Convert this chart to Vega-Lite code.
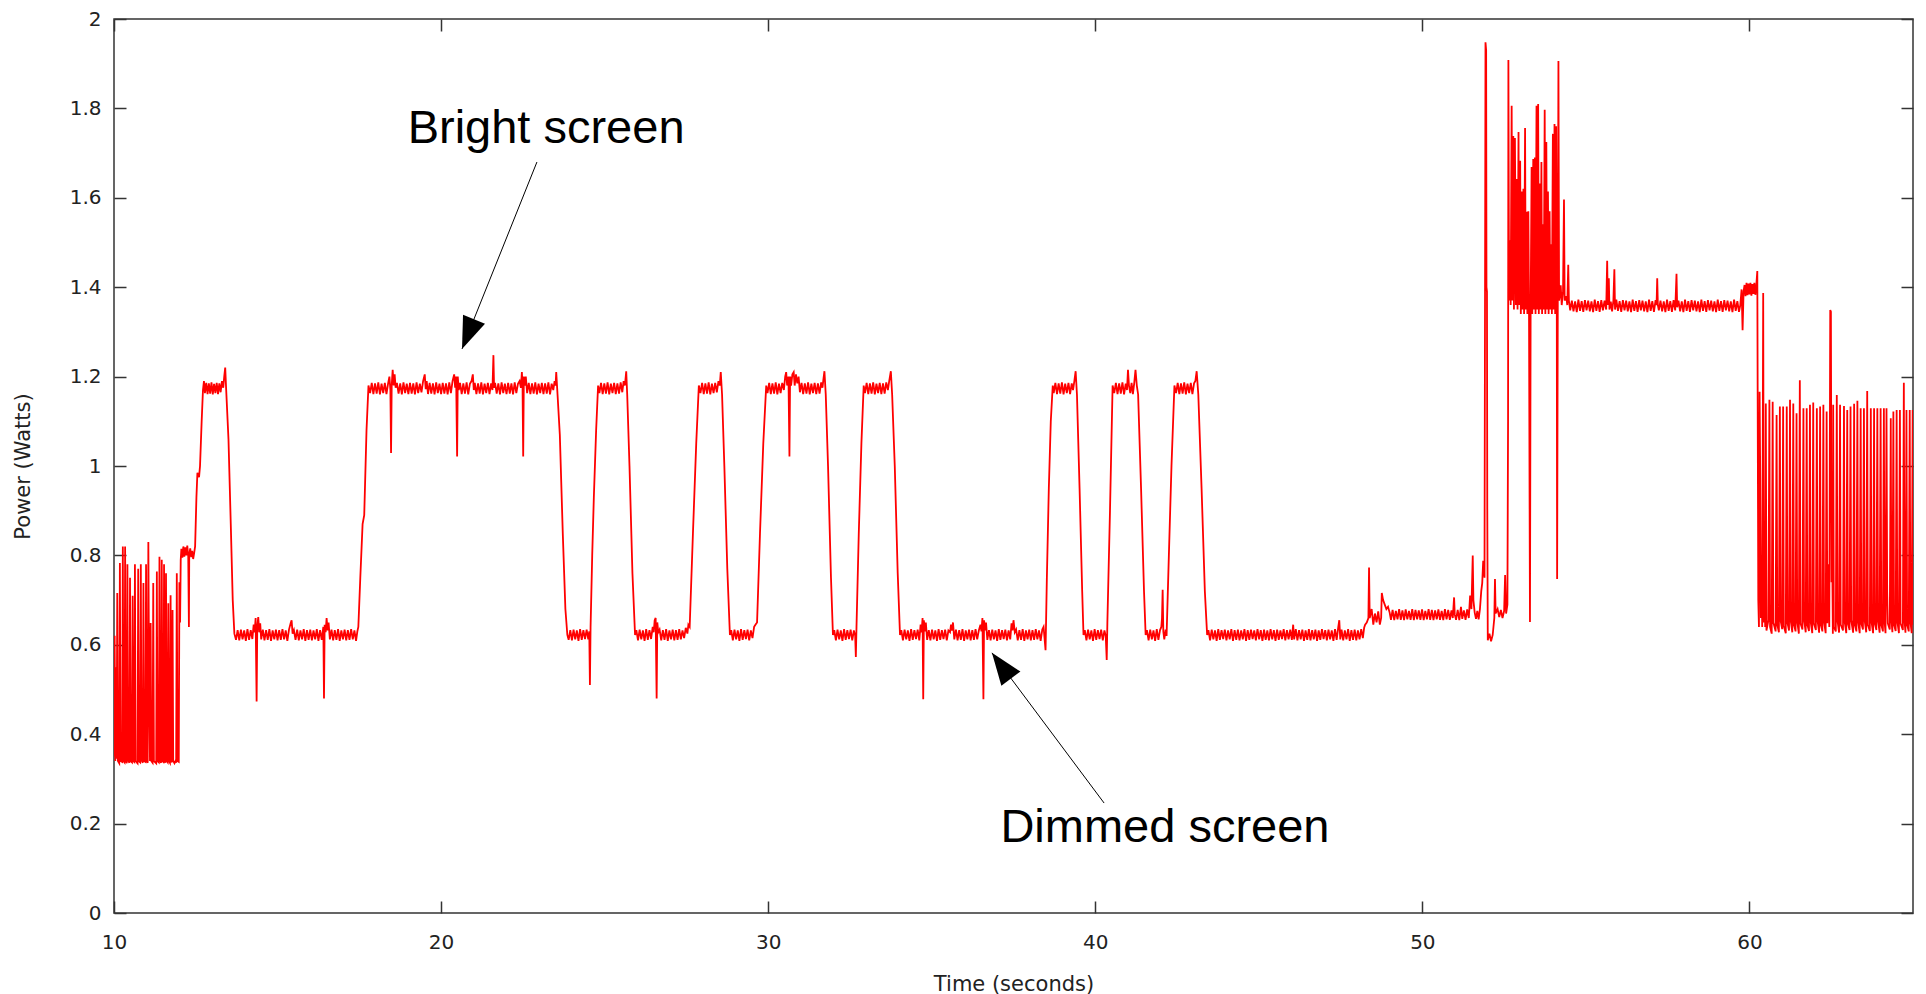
{
"$schema": "https://vega.github.io/schema/vega-lite/v6.json",
"width": 1799,
"height": 894,
"autosize": {"type": "none"},
"padding": {"left": 114, "top": 19, "right": 13, "bottom": 81},
"background": "white",
"config": {
  "view": {"stroke": "#333333", "strokeWidth": 1.5},
  "axis": {"grid": false, "domain": false, "tickColor": "#333333", "tickWidth": 1.5, "tickSize": 12, "offset": -12, "zindex": 1,
           "labelFlush": false, "labelFont": "DejaVu Sans", "labelFontSize": 20, "labelColor": "#222222",
           "titleFont": "DejaVu Sans", "titleFontSize": 21, "titleFontWeight": "normal", "titleColor": "#222222"}
},
"resolve": {"axis": {"x": "independent", "y": "independent"}},
"layer": [
{
  "data": {"values": [
{"t":10.00,"p":0.35},{"t":10.02,"p":0.62},{"t":10.04,"p":0.34},{"t":10.06,"p":0.55},{"t":10.08,"p":0.345},{"t":10.10,"p":0.716},{"t":10.12,"p":0.34},{"t":10.16,"p":0.335},{"t":10.18,"p":0.783},{"t":10.20,"p":0.34},{"t":10.25,"p":0.338},{"t":10.27,"p":0.82},{"t":10.29,"p":0.34},{"t":10.32,"p":0.337},{"t":10.34,"p":0.82},{"t":10.36,"p":0.34},{"t":10.39,"p":0.335},{"t":10.41,"p":0.78},{"t":10.43,"p":0.342},{"t":10.47,"p":0.336},{"t":10.49,"p":0.75},{"t":10.51,"p":0.34},{"t":10.55,"p":0.337},{"t":10.57,"p":0.71},{"t":10.59,"p":0.34},{"t":10.62,"p":0.338},{"t":10.64,"p":0.78},{"t":10.66,"p":0.34},{"t":10.72,"p":0.335},{"t":10.74,"p":0.77},{"t":10.76,"p":0.34},{"t":10.80,"p":0.337},{"t":10.82,"p":0.78},{"t":10.84,"p":0.342},{"t":10.88,"p":0.336},{"t":10.90,"p":0.738},{"t":10.92,"p":0.34},{"t":10.96,"p":0.338},{"t":10.98,"p":0.78},{"t":11.00,"p":0.34},{"t":11.03,"p":0.336},{"t":11.05,"p":0.83},{"t":11.07,"p":0.55},{"t":11.10,"p":0.34},{"t":11.12,"p":0.649},{"t":11.14,"p":0.34},{"t":11.18,"p":0.336},{"t":11.20,"p":0.738},{"t":11.22,"p":0.34},{"t":11.29,"p":0.335},{"t":11.31,"p":0.764},{"t":11.33,"p":0.34},{"t":11.37,"p":0.337},{"t":11.39,"p":0.797},{"t":11.41,"p":0.34},{"t":11.44,"p":0.336},{"t":11.46,"p":0.79},{"t":11.48,"p":0.34},{"t":11.51,"p":0.338},{"t":11.53,"p":0.78},{"t":11.55,"p":0.34},{"t":11.57,"p":0.336},{"t":11.59,"p":0.76},{"t":11.61,"p":0.34},{"t":11.64,"p":0.337},{"t":11.66,"p":0.693},{"t":11.68,"p":0.34},{"t":11.71,"p":0.336},{"t":11.73,"p":0.711},{"t":11.75,"p":0.34},{"t":11.77,"p":0.337},{"t":11.79,"p":0.678},{"t":11.81,"p":0.34},{"t":11.85,"p":0.335},{"t":11.88,"p":0.34},{"t":11.90,"p":0.336},{"t":11.92,"p":0.76},{"t":11.94,"p":0.34},{"t":11.98,"p":0.338},{"t":12.00,"p":0.74},{"t":12.02,"p":0.65},{"t":12.04,"p":0.79},
{"t":12.06,"p":0.815},{"t":12.09,"p":0.795},{"t":12.12,"p":0.82},{"t":12.15,"p":0.797},{"t":12.18,"p":0.818},{"t":12.21,"p":0.80},{"t":12.24,"p":0.822},{"t":12.27,"p":0.798},{"t":12.29,"p":0.64},{"t":12.30,"p":0.80},{"t":12.33,"p":0.816},{"t":12.36,"p":0.796},{"t":12.39,"p":0.81},{"t":12.42,"p":0.792},{"t":12.45,"p":0.805},
{"t":12.48,"p":0.82},{"t":12.52,"p":0.93},{"t":12.55,"p":0.985},{"t":12.60,"p":0.975},{"t":12.63,"p":1.0},{"t":12.68,"p":1.1},{"t":12.72,"p":1.17},
{"t":12.75,"p":1.19},{"t":12.78,"p":1.163},{"t":12.82,"p":1.186},{"t":12.86,"p":1.161},{"t":12.90,"p":1.185},{"t":12.94,"p":1.162},{"t":12.98,"p":1.187},{"t":13.02,"p":1.160},{"t":13.06,"p":1.184},{"t":13.10,"p":1.163},{"t":13.14,"p":1.186},{"t":13.18,"p":1.161},{"t":13.22,"p":1.185},{"t":13.26,"p":1.165},{"t":13.30,"p":1.19},{"t":13.34,"p":1.175},{"t":13.37,"p":1.2},{"t":13.40,"p":1.22},
{"t":13.43,"p":1.17},{"t":13.50,"p":1.06},{"t":13.57,"p":0.87},{"t":13.63,"p":0.7},{"t":13.68,"p":0.625},
{"t":13.73,"p":0.611},{"t":13.78,"p":0.633},{"t":13.83,"p":0.610},{"t":13.88,"p":0.634},{"t":13.93,"p":0.612},{"t":13.98,"p":0.632},{"t":14.03,"p":0.609},{"t":14.08,"p":0.635},{"t":14.13,"p":0.611},{"t":14.18,"p":0.633},{"t":14.23,"p":0.613},{"t":14.27,"p":0.645},{"t":14.30,"p":0.628},{"t":14.33,"p":0.66},{"t":14.36,"p":0.473},{"t":14.38,"p":0.64},{"t":14.41,"p":0.662},{"t":14.44,"p":0.628},{"t":14.47,"p":0.648},{"t":14.50,"p":0.612},{"t":14.55,"p":0.634},{"t":14.60,"p":0.610},{"t":14.65,"p":0.633},{"t":14.70,"p":0.611},{"t":14.75,"p":0.635},{"t":14.80,"p":0.609},{"t":14.85,"p":0.632},{"t":14.90,"p":0.612},{"t":14.95,"p":0.634},{"t":15.00,"p":0.610},{"t":15.05,"p":0.633},{"t":15.10,"p":0.611},{"t":15.15,"p":0.635},{"t":15.20,"p":0.612},{"t":15.25,"p":0.632},{"t":15.30,"p":0.609},{"t":15.35,"p":0.634},{"t":15.40,"p":0.648},{"t":15.43,"p":0.655},{"t":15.46,"p":0.625},{"t":15.50,"p":0.633},{"t":15.55,"p":0.611},{"t":15.60,"p":0.634},{"t":15.65,"p":0.610},{"t":15.70,"p":0.632},{"t":15.75,"p":0.612},{"t":15.80,"p":0.635},{"t":15.85,"p":0.609},{"t":15.90,"p":0.633},{"t":15.95,"p":0.611},{"t":16.00,"p":0.634},{"t":16.05,"p":0.610},{"t":16.10,"p":0.632},{"t":16.15,"p":0.612},{"t":16.20,"p":0.635},{"t":16.25,"p":0.609},{"t":16.30,"p":0.633},{"t":16.35,"p":0.611},{"t":16.40,"p":0.64},{"t":16.42,"p":0.48},{"t":16.44,"p":0.645},{"t":16.47,"p":0.628},{"t":16.50,"p":0.66},{"t":16.53,"p":0.632},{"t":16.56,"p":0.65},{"t":16.60,"p":0.612},{"t":16.65,"p":0.634},{"t":16.70,"p":0.610},{"t":16.75,"p":0.633},{"t":16.80,"p":0.611},{"t":16.85,"p":0.635},{"t":16.90,"p":0.609},{"t":16.95,"p":0.632},{"t":17.00,"p":0.612},{"t":17.05,"p":0.634},{"t":17.10,"p":0.610},{"t":17.15,"p":0.633},{"t":17.20,"p":0.611},{"t":17.25,"p":0.635},{"t":17.30,"p":0.612},{"t":17.35,"p":0.632},{"t":17.40,"p":0.609},{"t":17.44,"p":0.63},
{"t":17.47,"p":0.64},{"t":17.53,"p":0.75},{"t":17.60,"p":0.87},{"t":17.65,"p":0.89},{"t":17.72,"p":1.08},{"t":17.78,"p":1.18},
{"t":17.83,"p":1.163},{"t":17.88,"p":1.186},{"t":17.93,"p":1.161},{"t":17.98,"p":1.185},{"t":18.03,"p":1.162},{"t":18.08,"p":1.187},{"t":18.13,"p":1.160},{"t":18.18,"p":1.184},{"t":18.23,"p":1.163},{"t":18.28,"p":1.186},{"t":18.33,"p":1.161},{"t":18.38,"p":1.185},{"t":18.42,"p":1.2},{"t":18.45,"p":1.17},{"t":18.47,"p":1.029},{"t":18.49,"p":1.18},{"t":18.52,"p":1.215},{"t":18.55,"p":1.18},{"t":18.58,"p":1.205},{"t":18.61,"p":1.175},{"t":18.65,"p":1.186},{"t":18.70,"p":1.162},{"t":18.75,"p":1.185},{"t":18.80,"p":1.160},{"t":18.85,"p":1.187},{"t":18.90,"p":1.163},{"t":18.95,"p":1.184},{"t":19.00,"p":1.161},{"t":19.05,"p":1.186},{"t":19.10,"p":1.162},{"t":19.15,"p":1.185},{"t":19.20,"p":1.160},{"t":19.25,"p":1.187},{"t":19.30,"p":1.163},{"t":19.35,"p":1.184},{"t":19.40,"p":1.165},{"t":19.45,"p":1.19},{"t":19.50,"p":1.205},{"t":19.53,"p":1.172},{"t":19.56,"p":1.19},{"t":19.60,"p":1.161},{"t":19.65,"p":1.186},{"t":19.70,"p":1.162},{"t":19.75,"p":1.185},{"t":19.80,"p":1.160},{"t":19.85,"p":1.187},{"t":19.90,"p":1.163},{"t":19.95,"p":1.184},{"t":20.00,"p":1.161},{"t":20.05,"p":1.186},{"t":20.10,"p":1.162},{"t":20.15,"p":1.185},{"t":20.20,"p":1.160},{"t":20.25,"p":1.187},{"t":20.30,"p":1.163},{"t":20.35,"p":1.19},{"t":20.40,"p":1.205},{"t":20.43,"p":1.175},{"t":20.46,"p":1.2},{"t":20.49,"p":1.021},{"t":20.51,"p":1.2},{"t":20.54,"p":1.17},{"t":20.58,"p":1.186},{"t":20.63,"p":1.161},{"t":20.68,"p":1.185},{"t":20.73,"p":1.162},{"t":20.78,"p":1.187},{"t":20.83,"p":1.160},{"t":20.88,"p":1.184},{"t":20.93,"p":1.19},{"t":20.97,"p":1.205},{"t":21.00,"p":1.17},{"t":21.03,"p":1.186},{"t":21.08,"p":1.161},{"t":21.13,"p":1.185},{"t":21.18,"p":1.162},{"t":21.23,"p":1.187},{"t":21.28,"p":1.160},{"t":21.33,"p":1.184},{"t":21.38,"p":1.163},{"t":21.43,"p":1.186},{"t":21.48,"p":1.161},{"t":21.53,"p":1.185},{"t":21.57,"p":1.17},{"t":21.60,"p":1.248},{"t":21.62,"p":1.175},{"t":21.65,"p":1.186},{"t":21.70,"p":1.162},{"t":21.75,"p":1.185},{"t":21.80,"p":1.160},{"t":21.85,"p":1.187},{"t":21.90,"p":1.163},{"t":21.95,"p":1.184},{"t":22.00,"p":1.161},{"t":22.05,"p":1.186},{"t":22.10,"p":1.162},{"t":22.15,"p":1.185},{"t":22.20,"p":1.160},{"t":22.25,"p":1.187},{"t":22.30,"p":1.163},{"t":22.35,"p":1.184},{"t":22.40,"p":1.19},{"t":22.44,"p":1.175},{"t":22.47,"p":1.21},{"t":22.49,"p":1.18},{"t":22.51,"p":1.021},{"t":22.53,"p":1.2},{"t":22.56,"p":1.18},{"t":22.59,"p":1.2},{"t":22.63,"p":1.163},{"t":22.68,"p":1.186},{"t":22.73,"p":1.161},{"t":22.78,"p":1.185},{"t":22.83,"p":1.162},{"t":22.88,"p":1.187},{"t":22.93,"p":1.160},{"t":22.98,"p":1.184},{"t":23.03,"p":1.163},{"t":23.08,"p":1.186},{"t":23.13,"p":1.161},{"t":23.18,"p":1.185},{"t":23.23,"p":1.162},{"t":23.28,"p":1.187},{"t":23.33,"p":1.160},{"t":23.38,"p":1.184},{"t":23.43,"p":1.17},{"t":23.47,"p":1.19},{"t":23.50,"p":1.18},{"t":23.52,"p":1.21},
{"t":23.56,"p":1.16},{"t":23.63,"p":1.07},{"t":23.72,"p":0.85},{"t":23.80,"p":0.68},{"t":23.86,"p":0.622},
{"t":23.90,"p":0.611},{"t":23.95,"p":0.633},{"t":24.00,"p":0.610},{"t":24.05,"p":0.634},{"t":24.10,"p":0.612},{"t":24.15,"p":0.632},{"t":24.20,"p":0.609},{"t":24.25,"p":0.635},{"t":24.30,"p":0.611},{"t":24.35,"p":0.633},{"t":24.40,"p":0.613},{"t":24.45,"p":0.634},{"t":24.50,"p":0.612},{"t":24.53,"p":0.63},{"t":24.55,"p":0.51},{"t":24.57,"p":0.64},
{"t":24.62,"p":0.8},{"t":24.67,"p":0.93},{"t":24.74,"p":1.08},{"t":24.80,"p":1.18},
{"t":24.84,"p":1.163},{"t":24.89,"p":1.186},{"t":24.94,"p":1.161},{"t":24.99,"p":1.185},{"t":25.04,"p":1.162},{"t":25.09,"p":1.187},{"t":25.14,"p":1.160},{"t":25.19,"p":1.184},{"t":25.24,"p":1.163},{"t":25.29,"p":1.186},{"t":25.34,"p":1.161},{"t":25.39,"p":1.185},{"t":25.44,"p":1.162},{"t":25.49,"p":1.187},{"t":25.54,"p":1.165},{"t":25.58,"p":1.19},{"t":25.62,"p":1.18},{"t":25.66,"p":1.212},
{"t":25.69,"p":1.16},{"t":25.76,"p":1.0},{"t":25.85,"p":0.76},{"t":25.93,"p":0.622},
{"t":25.97,"p":0.633},{"t":26.02,"p":0.610},{"t":26.07,"p":0.634},{"t":26.12,"p":0.612},{"t":26.17,"p":0.632},{"t":26.22,"p":0.609},{"t":26.27,"p":0.635},{"t":26.32,"p":0.611},{"t":26.37,"p":0.633},{"t":26.42,"p":0.613},{"t":26.47,"p":0.64},{"t":26.50,"p":0.628},{"t":26.53,"p":0.655},{"t":26.56,"p":0.66},{"t":26.59,"p":0.48},{"t":26.61,"p":0.65},{"t":26.64,"p":0.628},{"t":26.68,"p":0.634},{"t":26.73,"p":0.610},{"t":26.78,"p":0.633},{"t":26.83,"p":0.611},{"t":26.88,"p":0.635},{"t":26.93,"p":0.609},{"t":26.98,"p":0.632},{"t":27.03,"p":0.612},{"t":27.08,"p":0.634},{"t":27.13,"p":0.610},{"t":27.18,"p":0.633},{"t":27.23,"p":0.611},{"t":27.28,"p":0.635},{"t":27.33,"p":0.612},{"t":27.38,"p":0.632},{"t":27.43,"p":0.615},{"t":27.48,"p":0.638},{"t":27.53,"p":0.625},{"t":27.56,"p":0.645},
{"t":27.60,"p":0.64},{"t":27.70,"p":0.85},{"t":27.80,"p":1.05},{"t":27.88,"p":1.18},
{"t":27.93,"p":1.163},{"t":27.98,"p":1.186},{"t":28.03,"p":1.161},{"t":28.08,"p":1.185},{"t":28.13,"p":1.162},{"t":28.18,"p":1.187},{"t":28.23,"p":1.160},{"t":28.28,"p":1.184},{"t":28.33,"p":1.163},{"t":28.38,"p":1.186},{"t":28.43,"p":1.165},{"t":28.48,"p":1.19},{"t":28.52,"p":1.18},{"t":28.55,"p":1.21},
{"t":28.59,"p":1.16},{"t":28.66,"p":1.0},{"t":28.75,"p":0.77},{"t":28.83,"p":0.622},
{"t":28.87,"p":0.633},{"t":28.92,"p":0.610},{"t":28.97,"p":0.634},{"t":29.02,"p":0.612},{"t":29.07,"p":0.632},{"t":29.12,"p":0.609},{"t":29.17,"p":0.635},{"t":29.22,"p":0.611},{"t":29.27,"p":0.633},{"t":29.32,"p":0.613},{"t":29.37,"p":0.634},{"t":29.42,"p":0.610},{"t":29.47,"p":0.632},{"t":29.52,"p":0.615},{"t":29.57,"p":0.64},{"t":29.61,"p":0.645},
{"t":29.66,"p":0.65},{"t":29.75,"p":0.85},{"t":29.85,"p":1.05},{"t":29.94,"p":1.18},
{"t":29.98,"p":1.163},{"t":30.03,"p":1.186},{"t":30.08,"p":1.161},{"t":30.13,"p":1.185},{"t":30.18,"p":1.162},{"t":30.23,"p":1.187},{"t":30.28,"p":1.160},{"t":30.33,"p":1.184},{"t":30.38,"p":1.163},{"t":30.43,"p":1.186},{"t":30.48,"p":1.17},{"t":30.52,"p":1.2},{"t":30.55,"p":1.21},{"t":30.58,"p":1.18},{"t":30.62,"p":1.2},{"t":30.65,"p":1.021},{"t":30.67,"p":1.2},{"t":30.70,"p":1.18},{"t":30.74,"p":1.205},{"t":30.78,"p":1.21},{"t":30.81,"p":1.18},{"t":30.85,"p":1.205},{"t":30.89,"p":1.185},{"t":30.93,"p":1.2},{"t":30.97,"p":1.165},{"t":31.02,"p":1.186},{"t":31.07,"p":1.161},{"t":31.12,"p":1.185},{"t":31.17,"p":1.162},{"t":31.22,"p":1.187},{"t":31.27,"p":1.160},{"t":31.32,"p":1.184},{"t":31.37,"p":1.163},{"t":31.42,"p":1.186},{"t":31.47,"p":1.161},{"t":31.52,"p":1.185},{"t":31.57,"p":1.162},{"t":31.62,"p":1.187},{"t":31.66,"p":1.175},{"t":31.69,"p":1.195},{"t":31.72,"p":1.212},
{"t":31.76,"p":1.16},{"t":31.83,"p":1.0},{"t":31.92,"p":0.75},{"t":31.98,"p":0.622},
{"t":32.02,"p":0.633},{"t":32.07,"p":0.610},{"t":32.12,"p":0.634},{"t":32.17,"p":0.612},{"t":32.22,"p":0.632},{"t":32.27,"p":0.609},{"t":32.32,"p":0.635},{"t":32.37,"p":0.611},{"t":32.42,"p":0.633},{"t":32.47,"p":0.613},{"t":32.52,"p":0.634},{"t":32.57,"p":0.610},{"t":32.62,"p":0.632},{"t":32.66,"p":0.62},{"t":32.68,"p":0.573},{"t":32.70,"p":0.64},
{"t":32.77,"p":0.85},{"t":32.85,"p":1.05},{"t":32.92,"p":1.18},
{"t":32.96,"p":1.163},{"t":33.01,"p":1.186},{"t":33.06,"p":1.161},{"t":33.11,"p":1.185},{"t":33.16,"p":1.162},{"t":33.21,"p":1.187},{"t":33.26,"p":1.160},{"t":33.31,"p":1.184},{"t":33.36,"p":1.163},{"t":33.41,"p":1.186},{"t":33.46,"p":1.161},{"t":33.51,"p":1.185},{"t":33.56,"p":1.162},{"t":33.61,"p":1.187},{"t":33.66,"p":1.17},{"t":33.70,"p":1.19},{"t":33.75,"p":1.212},
{"t":33.79,"p":1.16},{"t":33.87,"p":1.0},{"t":33.96,"p":0.76},{"t":34.03,"p":0.622},
{"t":34.07,"p":0.633},{"t":34.12,"p":0.610},{"t":34.17,"p":0.634},{"t":34.22,"p":0.612},{"t":34.27,"p":0.632},{"t":34.32,"p":0.609},{"t":34.37,"p":0.635},{"t":34.42,"p":0.611},{"t":34.47,"p":0.633},{"t":34.52,"p":0.613},{"t":34.57,"p":0.634},{"t":34.62,"p":0.610},{"t":34.66,"p":0.645},{"t":34.69,"p":0.628},{"t":34.72,"p":0.66},{"t":34.74,"p":0.478},{"t":34.76,"p":0.655},{"t":34.79,"p":0.63},{"t":34.82,"p":0.65},{"t":34.86,"p":0.611},{"t":34.91,"p":0.633},{"t":34.96,"p":0.610},{"t":35.01,"p":0.634},{"t":35.06,"p":0.612},{"t":35.11,"p":0.632},{"t":35.16,"p":0.609},{"t":35.21,"p":0.635},{"t":35.26,"p":0.611},{"t":35.31,"p":0.633},{"t":35.36,"p":0.613},{"t":35.41,"p":0.634},{"t":35.46,"p":0.610},{"t":35.51,"p":0.632},{"t":35.56,"p":0.628},{"t":35.59,"p":0.645},{"t":35.62,"p":0.632},{"t":35.65,"p":0.65},{"t":35.69,"p":0.612},{"t":35.74,"p":0.634},{"t":35.79,"p":0.610},{"t":35.84,"p":0.633},{"t":35.89,"p":0.611},{"t":35.94,"p":0.635},{"t":35.99,"p":0.609},{"t":36.04,"p":0.632},{"t":36.09,"p":0.612},{"t":36.14,"p":0.634},{"t":36.19,"p":0.610},{"t":36.24,"p":0.633},{"t":36.29,"p":0.611},{"t":36.34,"p":0.635},{"t":36.39,"p":0.612},{"t":36.44,"p":0.632},{"t":36.49,"p":0.645},{"t":36.52,"p":0.63},{"t":36.55,"p":0.66},{"t":36.58,"p":0.478},{"t":36.60,"p":0.655},{"t":36.63,"p":0.632},{"t":36.66,"p":0.65},{"t":36.70,"p":0.611},{"t":36.75,"p":0.633},{"t":36.80,"p":0.610},{"t":36.85,"p":0.634},{"t":36.90,"p":0.612},{"t":36.95,"p":0.632},{"t":37.00,"p":0.609},{"t":37.05,"p":0.635},{"t":37.10,"p":0.611},{"t":37.15,"p":0.633},{"t":37.20,"p":0.613},{"t":37.25,"p":0.634},{"t":37.30,"p":0.610},{"t":37.35,"p":0.632},{"t":37.40,"p":0.612},{"t":37.44,"p":0.648},{"t":37.47,"p":0.632},{"t":37.50,"p":0.655},{"t":37.54,"p":0.628},{"t":37.58,"p":0.634},{"t":37.63,"p":0.610},{"t":37.68,"p":0.633},{"t":37.73,"p":0.611},{"t":37.78,"p":0.635},{"t":37.83,"p":0.609},{"t":37.88,"p":0.632},{"t":37.93,"p":0.612},{"t":37.98,"p":0.634},{"t":38.03,"p":0.610},{"t":38.08,"p":0.633},{"t":38.13,"p":0.611},{"t":38.18,"p":0.635},{"t":38.23,"p":0.612},{"t":38.28,"p":0.632},{"t":38.33,"p":0.609},{"t":38.38,"p":0.634},{"t":38.42,"p":0.64},{"t":38.48,"p":0.588},
{"t":38.52,"p":0.75},{"t":38.58,"p":0.95},{"t":38.64,"p":1.1},{"t":38.70,"p":1.18},
{"t":38.73,"p":1.163},{"t":38.78,"p":1.186},{"t":38.83,"p":1.161},{"t":38.88,"p":1.185},{"t":38.93,"p":1.162},{"t":38.98,"p":1.187},{"t":39.03,"p":1.160},{"t":39.08,"p":1.184},{"t":39.13,"p":1.163},{"t":39.18,"p":1.186},{"t":39.23,"p":1.161},{"t":39.28,"p":1.185},{"t":39.32,"p":1.17},{"t":39.36,"p":1.19},{"t":39.40,"p":1.212},
{"t":39.44,"p":1.16},{"t":39.52,"p":0.95},{"t":39.60,"p":0.72},{"t":39.64,"p":0.622},
{"t":39.68,"p":0.633},{"t":39.73,"p":0.610},{"t":39.78,"p":0.634},{"t":39.83,"p":0.612},{"t":39.88,"p":0.632},{"t":39.93,"p":0.609},{"t":39.98,"p":0.635},{"t":40.03,"p":0.611},{"t":40.08,"p":0.633},{"t":40.13,"p":0.613},{"t":40.18,"p":0.634},{"t":40.23,"p":0.610},{"t":40.28,"p":0.632},{"t":40.32,"p":0.62},{"t":40.35,"p":0.566},{"t":40.37,"p":0.65},
{"t":40.45,"p":0.9},{"t":40.53,"p":1.18},
{"t":40.58,"p":1.163},{"t":40.63,"p":1.186},{"t":40.68,"p":1.161},{"t":40.73,"p":1.185},{"t":40.78,"p":1.162},{"t":40.83,"p":1.187},{"t":40.88,"p":1.160},{"t":40.93,"p":1.184},{"t":40.97,"p":1.17},{"t":41.00,"p":1.215},{"t":41.03,"p":1.18},{"t":41.07,"p":1.163},{"t":41.11,"p":1.186},{"t":41.15,"p":1.161},{"t":41.19,"p":1.185},{"t":41.23,"p":1.215},{"t":41.27,"p":1.18},
{"t":41.31,"p":1.16},{"t":41.40,"p":0.95},{"t":41.49,"p":0.72},{"t":41.54,"p":0.622},
{"t":41.58,"p":0.633},{"t":41.63,"p":0.610},{"t":41.68,"p":0.634},{"t":41.73,"p":0.612},{"t":41.78,"p":0.632},{"t":41.83,"p":0.609},{"t":41.88,"p":0.635},{"t":41.93,"p":0.611},{"t":41.98,"p":0.633},{"t":42.02,"p":0.64},{"t":42.04,"p":0.66},{"t":42.06,"p":0.723},{"t":42.08,"p":0.63},{"t":42.11,"p":0.612},{"t":42.15,"p":0.634},{"t":42.18,"p":0.62},
{"t":42.25,"p":0.8},{"t":42.33,"p":1.0},{"t":42.42,"p":1.18},
{"t":42.47,"p":1.163},{"t":42.52,"p":1.186},{"t":42.57,"p":1.161},{"t":42.62,"p":1.185},{"t":42.67,"p":1.162},{"t":42.72,"p":1.187},{"t":42.77,"p":1.160},{"t":42.82,"p":1.184},{"t":42.87,"p":1.163},{"t":42.92,"p":1.186},{"t":42.97,"p":1.161},{"t":43.02,"p":1.185},{"t":43.06,"p":1.19},{"t":43.10,"p":1.212},
{"t":43.15,"p":1.16},{"t":43.25,"p":0.95},{"t":43.35,"p":0.72},{"t":43.42,"p":0.622},
{"t":43.46,"p":0.633},{"t":43.51,"p":0.610},{"t":43.56,"p":0.634},{"t":43.61,"p":0.612},{"t":43.66,"p":0.632},{"t":43.71,"p":0.609},{"t":43.76,"p":0.635},{"t":43.81,"p":0.611},{"t":43.86,"p":0.633},{"t":43.91,"p":0.613},{"t":43.96,"p":0.634},{"t":44.01,"p":0.610},{"t":44.06,"p":0.632},{"t":44.11,"p":0.612},{"t":44.16,"p":0.635},{"t":44.21,"p":0.609},{"t":44.26,"p":0.633},{"t":44.31,"p":0.611},{"t":44.36,"p":0.634},{"t":44.41,"p":0.610},{"t":44.46,"p":0.632},{"t":44.51,"p":0.612},{"t":44.56,"p":0.635},{"t":44.61,"p":0.609},{"t":44.66,"p":0.633},{"t":44.71,"p":0.611},{"t":44.76,"p":0.634},{"t":44.81,"p":0.613},{"t":44.86,"p":0.632},{"t":44.91,"p":0.610},{"t":44.96,"p":0.635},{"t":45.01,"p":0.612},{"t":45.06,"p":0.633},{"t":45.11,"p":0.609},{"t":45.16,"p":0.634},{"t":45.21,"p":0.611},{"t":45.26,"p":0.632},{"t":45.31,"p":0.610},{"t":45.36,"p":0.635},{"t":45.41,"p":0.612},{"t":45.46,"p":0.633},{"t":45.51,"p":0.609},{"t":45.56,"p":0.634},{"t":45.61,"p":0.611},{"t":45.66,"p":0.632},{"t":45.71,"p":0.613},{"t":45.76,"p":0.635},{"t":45.81,"p":0.610},{"t":45.86,"p":0.633},{"t":45.91,"p":0.612},{"t":45.96,"p":0.634},{"t":46.01,"p":0.611},{"t":46.05,"p":0.645},{"t":46.08,"p":0.612},{"t":46.13,"p":0.635},{"t":46.18,"p":0.610},{"t":46.23,"p":0.633},{"t":46.28,"p":0.612},{"t":46.33,"p":0.634},{"t":46.38,"p":0.609},{"t":46.43,"p":0.632},{"t":46.48,"p":0.611},{"t":46.53,"p":0.635},{"t":46.58,"p":0.610},{"t":46.63,"p":0.633},{"t":46.68,"p":0.612},{"t":46.73,"p":0.634},{"t":46.78,"p":0.609},{"t":46.83,"p":0.632},{"t":46.88,"p":0.611},{"t":46.93,"p":0.635},{"t":46.98,"p":0.613},{"t":47.03,"p":0.633},{"t":47.08,"p":0.610},{"t":47.13,"p":0.634},{"t":47.18,"p":0.612},{"t":47.23,"p":0.632},{"t":47.28,"p":0.609},{"t":47.33,"p":0.635},{"t":47.38,"p":0.611},{"t":47.43,"p":0.64},{"t":47.46,"p":0.655},{"t":47.49,"p":0.612},{"t":47.53,"p":0.634},{"t":47.58,"p":0.610},{"t":47.63,"p":0.632},{"t":47.68,"p":0.612},{"t":47.73,"p":0.635},{"t":47.78,"p":0.609},{"t":47.83,"p":0.633},{"t":47.88,"p":0.611},{"t":47.93,"p":0.634},{"t":47.98,"p":0.610},{"t":48.03,"p":0.632},{"t":48.08,"p":0.612},{"t":48.13,"p":0.635},{"t":48.18,"p":0.615},{"t":48.22,"p":0.638},{"t":48.25,"p":0.645},
{"t":48.30,"p":0.65},{"t":48.35,"p":0.66},{"t":48.37,"p":0.773},{"t":48.39,"p":0.66},{"t":48.45,"p":0.68},{"t":48.50,"p":0.645},{"t":48.55,"p":0.67},{"t":48.60,"p":0.65},{"t":48.65,"p":0.675},{"t":48.70,"p":0.645},{"t":48.74,"p":0.66},{"t":48.76,"p":0.716},{"t":48.80,"p":0.7},{"t":48.85,"p":0.69},{"t":48.90,"p":0.68},{"t":48.95,"p":0.685},{"t":49.00,"p":0.672},
{"t":49.04,"p":0.656},{"t":49.09,"p":0.678},{"t":49.14,"p":0.655},{"t":49.19,"p":0.676},{"t":49.24,"p":0.657},{"t":49.29,"p":0.68},{"t":49.34,"p":0.656},{"t":49.39,"p":0.677},{"t":49.44,"p":0.655},{"t":49.49,"p":0.679},{"t":49.54,"p":0.657},{"t":49.59,"p":0.676},{"t":49.64,"p":0.656},{"t":49.69,"p":0.68},{"t":49.74,"p":0.655},{"t":49.79,"p":0.678},{"t":49.84,"p":0.657},{"t":49.89,"p":0.677},{"t":49.94,"p":0.656},{"t":49.99,"p":0.679},{"t":50.04,"p":0.655},{"t":50.09,"p":0.676},{"t":50.14,"p":0.657},{"t":50.19,"p":0.68},{"t":50.24,"p":0.656},{"t":50.29,"p":0.678},{"t":50.34,"p":0.655},{"t":50.39,"p":0.677},{"t":50.44,"p":0.657},{"t":50.49,"p":0.679},{"t":50.54,"p":0.656},{"t":50.59,"p":0.676},{"t":50.64,"p":0.655},{"t":50.69,"p":0.68},{"t":50.74,"p":0.657},{"t":50.79,"p":0.678},{"t":50.84,"p":0.656},{"t":50.89,"p":0.677},{"t":50.93,"p":0.66},{"t":50.97,"p":0.706},{"t":50.99,"p":0.668},{"t":51.03,"p":0.656},{"t":51.08,"p":0.678},{"t":51.13,"p":0.655},{"t":51.18,"p":0.685},{"t":51.22,"p":0.658},{"t":51.27,"p":0.677},{"t":51.32,"p":0.656},{"t":51.37,"p":0.679},{"t":51.42,"p":0.66},{"t":51.46,"p":0.71},{"t":51.50,"p":0.68},{"t":51.54,"p":0.80},{"t":51.56,"p":0.7},{"t":51.60,"p":0.672},{"t":51.64,"p":0.658},{"t":51.68,"p":0.676},{"t":51.72,"p":0.657},{"t":51.76,"p":0.68},{"t":51.80,"p":0.72},{"t":51.83,"p":0.738},{"t":51.86,"p":0.788},{"t":51.90,"p":0.75},
{"t":51.93,"p":1.948},{"t":51.95,"p":1.93},{"t":51.96,"p":1.40},{"t":51.975,"p":1.39},{"t":51.985,"p":0.9},{"t":52.00,"p":0.61},
{"t":52.05,"p":0.625},{"t":52.10,"p":0.608},{"t":52.15,"p":0.622},{"t":52.20,"p":0.66},{"t":52.22,"p":0.747},{"t":52.24,"p":0.67},{"t":52.30,"p":0.68},{"t":52.35,"p":0.662},{"t":52.40,"p":0.678},{"t":52.45,"p":0.66},{"t":52.50,"p":0.676},{"t":52.53,"p":0.756},{"t":52.56,"p":0.67},{"t":52.60,"p":0.69},
{"t":52.62,"p":1.1},{"t":52.63,"p":1.908},{"t":52.65,"p":1.37},{"t":52.68,"p":1.505},{"t":52.70,"p":1.36},{"t":52.73,"p":1.806},{"t":52.75,"p":1.37},{"t":52.78,"p":1.738},{"t":52.80,"p":1.35},{"t":52.83,"p":1.734},{"t":52.86,"p":1.36},{"t":52.89,"p":1.642},{"t":52.91,"p":1.35},{"t":52.94,"p":1.747},{"t":52.96,"p":1.36},{"t":52.99,"p":1.683},{"t":53.01,"p":1.34},{"t":53.04,"p":1.614},{"t":53.06,"p":1.35},{"t":53.09,"p":1.62},{"t":53.11,"p":1.34},{"t":53.14,"p":1.756},{"t":53.16,"p":1.35},{"t":53.19,"p":1.569},{"t":53.21,"p":1.34},{"t":53.24,"p":1.57},{"t":53.26,"p":1.36},{"t":53.29,"p":0.651},{"t":53.31,"p":1.35},{"t":53.34,"p":1.669},{"t":53.36,"p":1.34},{"t":53.39,"p":1.687},{"t":53.41,"p":1.35},{"t":53.44,"p":1.69},{"t":53.46,"p":1.34},{"t":53.49,"p":1.806},{"t":53.51,"p":1.35},{"t":53.54,"p":1.81},{"t":53.56,"p":1.34},{"t":53.59,"p":1.632},{"t":53.61,"p":1.35},{"t":53.64,"p":1.68},{"t":53.66,"p":1.34},{"t":53.69,"p":1.541},{"t":53.71,"p":1.35},{"t":53.74,"p":1.797},{"t":53.76,"p":1.34},{"t":53.79,"p":1.725},{"t":53.81,"p":1.35},{"t":53.84,"p":1.614},{"t":53.86,"p":1.34},{"t":53.89,"p":1.57},{"t":53.91,"p":1.35},{"t":53.94,"p":1.496},{"t":53.96,"p":1.34},{"t":53.99,"p":1.743},{"t":54.01,"p":1.35},{"t":54.04,"p":1.765},{"t":54.06,"p":1.34},{"t":54.09,"p":1.76},{"t":54.11,"p":1.35},{"t":54.12,"p":0.747},{"t":54.14,"p":1.36},{"t":54.16,"p":1.906},{"t":54.18,"p":1.37},{"t":54.20,"p":1.38},{"t":54.23,"p":1.404},{"t":54.26,"p":1.36},{"t":54.30,"p":1.39},{"t":54.33,"p":1.596},{"t":54.35,"p":1.37},{"t":54.40,"p":1.38},{"t":54.43,"p":1.36},{"t":54.46,"p":1.45},{"t":54.48,"p":1.37},
{"t":54.52,"p":1.348},{"t":54.57,"p":1.37},{"t":54.62,"p":1.346},{"t":54.67,"p":1.368},{"t":54.72,"p":1.344},{"t":54.77,"p":1.372},{"t":54.82,"p":1.347},{"t":54.87,"p":1.369},{"t":54.92,"p":1.345},{"t":54.97,"p":1.371},{"t":55.02,"p":1.348},{"t":55.07,"p":1.37},{"t":55.12,"p":1.346},{"t":55.17,"p":1.368},{"t":55.22,"p":1.344},{"t":55.27,"p":1.372},{"t":55.32,"p":1.347},{"t":55.37,"p":1.369},{"t":55.42,"p":1.345},{"t":55.47,"p":1.371},{"t":55.52,"p":1.348},{"t":55.57,"p":1.37},{"t":55.62,"p":1.35},{"t":55.65,"p":1.459},{"t":55.67,"p":1.36},{"t":55.70,"p":1.42},{"t":55.72,"p":1.35},{"t":55.76,"p":1.368},{"t":55.80,"p":1.346},{"t":55.84,"p":1.37},{"t":55.87,"p":1.44},{"t":55.89,"p":1.35},{"t":55.93,"p":1.372},{"t":55.98,"p":1.347},{"t":56.03,"p":1.369},{"t":56.08,"p":1.345},{"t":56.13,"p":1.371},{"t":56.18,"p":1.348},{"t":56.23,"p":1.37},{"t":56.28,"p":1.346},{"t":56.33,"p":1.368},{"t":56.38,"p":1.344},{"t":56.43,"p":1.372},{"t":56.48,"p":1.347},{"t":56.53,"p":1.369},{"t":56.58,"p":1.345},{"t":56.63,"p":1.371},{"t":56.68,"p":1.348},{"t":56.73,"p":1.37},{"t":56.78,"p":1.346},{"t":56.83,"p":1.368},{"t":56.88,"p":1.344},{"t":56.93,"p":1.372},{"t":56.98,"p":1.347},{"t":57.03,"p":1.369},{"t":57.08,"p":1.345},{"t":57.13,"p":1.371},{"t":57.16,"p":1.36},{"t":57.18,"p":1.42},{"t":57.20,"p":1.36},{"t":57.23,"p":1.348},{"t":57.28,"p":1.37},{"t":57.33,"p":1.346},{"t":57.38,"p":1.368},{"t":57.43,"p":1.344},{"t":57.48,"p":1.372},{"t":57.53,"p":1.347},{"t":57.58,"p":1.369},{"t":57.63,"p":1.345},{"t":57.68,"p":1.371},{"t":57.73,"p":1.348},{"t":57.77,"p":1.43},{"t":57.79,"p":1.355},{"t":57.83,"p":1.37},{"t":57.88,"p":1.346},{"t":57.93,"p":1.368},{"t":57.98,"p":1.344},{"t":58.03,"p":1.372},{"t":58.08,"p":1.347},{"t":58.13,"p":1.369},{"t":58.18,"p":1.345},{"t":58.23,"p":1.371},{"t":58.28,"p":1.348},{"t":58.33,"p":1.37},{"t":58.38,"p":1.346},{"t":58.43,"p":1.368},{"t":58.48,"p":1.344},{"t":58.53,"p":1.372},{"t":58.58,"p":1.347},{"t":58.63,"p":1.369},{"t":58.68,"p":1.345},{"t":58.73,"p":1.371},{"t":58.78,"p":1.348},{"t":58.83,"p":1.37},{"t":58.88,"p":1.346},{"t":58.93,"p":1.368},{"t":58.98,"p":1.344},{"t":59.03,"p":1.372},{"t":59.08,"p":1.347},{"t":59.13,"p":1.369},{"t":59.18,"p":1.345},{"t":59.23,"p":1.371},{"t":59.28,"p":1.348},{"t":59.33,"p":1.37},{"t":59.38,"p":1.346},{"t":59.43,"p":1.368},{"t":59.48,"p":1.344},{"t":59.53,"p":1.372},{"t":59.58,"p":1.347},{"t":59.63,"p":1.369},{"t":59.68,"p":1.345},{"t":59.72,"p":1.36},{"t":59.76,"p":1.395},{"t":59.79,"p":1.304},{"t":59.82,"p":1.39},
{"t":59.85,"p":1.405},{"t":59.88,"p":1.38},{"t":59.91,"p":1.41},{"t":59.94,"p":1.382},{"t":59.97,"p":1.408},{"t":60.00,"p":1.384},{"t":60.03,"p":1.41},{"t":60.06,"p":1.381},{"t":60.09,"p":1.407},{"t":60.12,"p":1.385},{"t":60.15,"p":1.41},{"t":60.18,"p":1.383},{"t":60.21,"p":1.405},{"t":60.24,"p":1.436},
{"t":60.27,"p":0.70},{"t":60.29,"p":0.64},{"t":60.31,"p":1.166},{"t":60.33,"p":0.97},{"t":60.35,"p":0.66},{"t":60.37,"p":0.76},{"t":60.39,"p":0.64},{"t":60.42,"p":1.387},{"t":60.44,"p":0.65},{"t":60.46,"p":0.8},{"t":60.48,"p":0.64},
{"t":60.50,"p":1.14},{"t":60.52,"p":0.632},{"t":60.58,"p":0.655},{"t":60.61,"p":1.148},{"t":60.63,"p":0.64},{"t":60.68,"p":0.625},{"t":60.71,"p":1.144},{"t":60.73,"p":0.65},{"t":60.80,"p":0.63},{"t":60.83,"p":1.114},{"t":60.85,"p":0.645},{"t":60.90,"p":0.628},{"t":60.93,"p":1.133},{"t":60.95,"p":0.655},{"t":61.00,"p":0.635},{"t":61.03,"p":1.133},{"t":61.05,"p":0.642},{"t":61.11,"p":0.626},{"t":61.14,"p":1.133},{"t":61.16,"p":0.65},{"t":61.21,"p":0.632},{"t":61.24,"p":1.148},{"t":61.26,"p":0.655},{"t":61.31,"p":0.628},{"t":61.34,"p":1.14},{"t":61.36,"p":0.645},{"t":61.41,"p":0.63},{"t":61.44,"p":1.118},{"t":61.46,"p":0.652},{"t":61.51,"p":0.625},{"t":61.54,"p":1.192},{"t":61.56,"p":0.648},{"t":61.62,"p":0.634},{"t":61.65,"p":1.129},{"t":61.67,"p":0.656},{"t":61.72,"p":0.628},{"t":61.75,"p":1.129},{"t":61.77,"p":0.645},{"t":61.82,"p":0.631},{"t":61.85,"p":1.137},{"t":61.87,"p":0.652},{"t":61.92,"p":0.626},{"t":61.95,"p":1.142},{"t":61.97,"p":0.648},{"t":62.03,"p":0.633},{"t":62.06,"p":1.129},{"t":62.08,"p":0.655},{"t":62.13,"p":0.627},{"t":62.16,"p":1.133},{"t":62.18,"p":0.645},{"t":62.23,"p":0.63},{"t":62.26,"p":1.137},{"t":62.28,"p":0.652},{"t":62.33,"p":0.626},{"t":62.36,"p":1.122},{"t":62.38,"p":0.648},{"t":62.42,"p":0.78},{"t":62.44,"p":0.64},{"t":62.47,"p":1.349},{"t":62.49,"p":1.345},{"t":62.51,"p":0.74},{"t":62.53,"p":0.8},{"t":62.55,"p":0.625},{"t":62.56,"p":1.137},{"t":62.58,"p":0.64},{"t":62.64,"p":0.63},{"t":62.67,"p":1.159},{"t":62.69,"p":0.655},{"t":62.74,"p":0.627},{"t":62.77,"p":1.137},{"t":62.79,"p":0.645},{"t":62.86,"p":0.632},{"t":62.89,"p":1.134},{"t":62.91,"p":0.652},{"t":62.96,"p":0.626},{"t":62.99,"p":1.125},{"t":63.01,"p":0.648},{"t":63.06,"p":0.633},{"t":63.09,"p":1.133},{"t":63.11,"p":0.655},{"t":63.17,"p":0.627},{"t":63.20,"p":1.139},{"t":63.22,"p":0.645},{"t":63.27,"p":0.63},{"t":63.30,"p":1.146},{"t":63.32,"p":0.652},{"t":63.37,"p":0.626},{"t":63.40,"p":1.129},{"t":63.42,"p":0.648},{"t":63.47,"p":0.634},{"t":63.50,"p":1.129},{"t":63.52,"p":0.656},{"t":63.57,"p":0.628},{"t":63.60,"p":1.168},{"t":63.62,"p":0.645},{"t":63.68,"p":0.631},{"t":63.71,"p":1.129},{"t":63.73,"p":0.652},{"t":63.78,"p":0.626},{"t":63.81,"p":1.129},{"t":63.83,"p":0.648},{"t":63.88,"p":0.633},{"t":63.91,"p":1.129},{"t":63.93,"p":0.655},{"t":63.98,"p":0.627},{"t":64.01,"p":1.129},{"t":64.03,"p":0.645},{"t":64.08,"p":0.63},{"t":64.11,"p":1.129},{"t":64.13,"p":0.652},{"t":64.16,"p":0.626},{"t":64.19,"p":1.129},{"t":64.21,"p":0.72},{"t":64.23,"p":0.648},{"t":64.29,"p":0.634},{"t":64.32,"p":1.107},{"t":64.34,"p":0.656},{"t":64.37,"p":0.628},{"t":64.40,"p":1.122},{"t":64.42,"p":0.645},{"t":64.47,"p":0.631},{"t":64.50,"p":1.125},{"t":64.52,"p":0.652},{"t":64.57,"p":0.626},{"t":64.60,"p":1.125},{"t":64.62,"p":0.648},{"t":64.69,"p":0.633},{"t":64.72,"p":1.186},{"t":64.74,"p":0.655},{"t":64.77,"p":0.627},{"t":64.80,"p":1.125},{"t":64.82,"p":0.645},{"t":64.87,"p":0.63},{"t":64.90,"p":1.125},{"t":64.92,"p":0.652},{"t":64.96,"p":0.626},{"t":64.99,"p":1.125},{"t":65.00,"p":0.645}
  ]},
  "mark": {"type": "line", "color": "#ff0000", "strokeWidth": 1.8, "clip": true},
  "encoding": {
    "x": {"field": "t", "type": "quantitative", "scale": {"domain": [10, 65], "nice": false, "zero": false},
          "axis": {"orient": "bottom", "values": [10, 20, 30, 40, 50, 60], "labelPadding": 19, "title": "Time (seconds)", "titlePadding": 21}},
    "y": {"field": "p", "type": "quantitative", "scale": {"domain": [0, 2], "nice": false},
          "axis": {"orient": "left", "values": [0, 0.2, 0.4, 0.6, 0.8, 1, 1.2, 1.4, 1.6, 1.8, 2], "format": "~g", "labelPadding": 13, "title": "Power (Watts)", "titlePadding": 36}}
  }
},
{
  "data": {"values": [
    {"t1": 22.93, "p1": 1.680, "t2": 20.64, "p2": 1.262},
    {"t1": 40.27, "p1": 0.246, "t2": 36.84, "p2": 0.582}
  ]},
  "mark": {"type": "rule", "color": "#000000", "strokeWidth": 1},
  "encoding": {
    "x": {"field": "t1", "type": "quantitative", "scale": {"domain": [10, 65], "nice": false, "zero": false},
          "axis": {"orient": "top", "values": [10, 20, 30, 40, 50, 60], "labels": false, "title": null}},
    "y": {"field": "p1", "type": "quantitative", "scale": {"domain": [0, 2], "nice": false},
          "axis": {"orient": "right", "values": [0, 0.2, 0.4, 0.6, 0.8, 1, 1.2, 1.4, 1.6, 1.8, 2], "labels": false, "title": null}},
    "x2": {"field": "t2"},
    "y2": {"field": "p2"}
  }
},
{
  "data": {"values": [{"t": 20.64, "p": 1.262}]},
  "mark": {"type": "point", "shape": "M0,0L-0.37,1L0.37,1Z", "size": 4096, "filled": true, "color": "#000000", "opacity": 1, "strokeWidth": 0, "angle": 202},
  "encoding": {
    "x": {"field": "t", "type": "quantitative", "axis": null},
    "y": {"field": "p", "type": "quantitative", "axis": null}
  }
},
{
  "data": {"values": [{"t": 36.84, "p": 0.582}]},
  "mark": {"type": "point", "shape": "M0,0L-0.37,1L0.37,1Z", "size": 4096, "filled": true, "color": "#000000", "opacity": 1, "strokeWidth": 0, "angle": 323.6},
  "encoding": {
    "x": {"field": "t", "type": "quantitative", "axis": null},
    "y": {"field": "p", "type": "quantitative", "axis": null}
  }
},
{
  "data": {"values": [
    {"label": "Bright screen", "t": 23.21, "p": 1.7226},
    {"label": "Dimmed screen", "t": 42.13, "p": 0.1588}
  ]},
  "mark": {"type": "text", "font": "Liberation Sans", "fontSize": 47, "align": "center", "baseline": "alphabetic", "color": "#000000"},
  "encoding": {
    "x": {"field": "t", "type": "quantitative", "axis": null},
    "y": {"field": "p", "type": "quantitative", "axis": null},
    "text": {"field": "label"}
  }
}
]
}
